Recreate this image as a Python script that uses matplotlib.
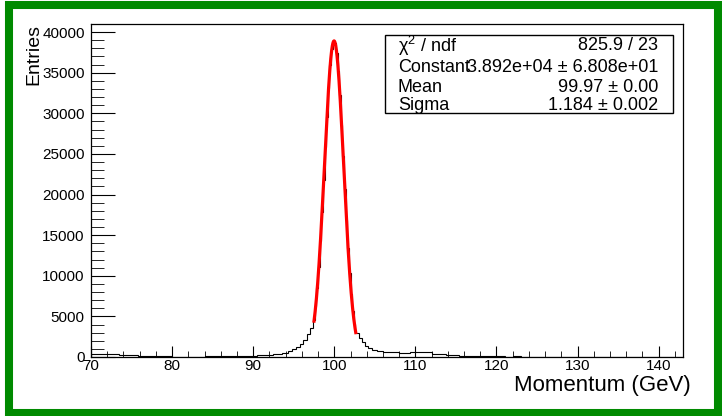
"""
plot.py - momentum histogram with gaussian fit, ROOT-like style.
"""

import numpy as np
import matplotlib
matplotlib.use('Agg')
import matplotlib.pyplot as plt
from matplotlib.patches import Rectangle

plt.rcParams['font.family'] = ['Liberation Sans', 'DejaVu Sans']
plt.rcParams['mathtext.fontset'] = 'custom'
plt.rcParams['mathtext.rm'] = 'Liberation Sans'
plt.rcParams['mathtext.it'] = 'Liberation Sans:italic'

# ── Data ───────────────────────────────────────────────────────────────────────
# histogram bin edges (GeV) and contents (entries)
bin_edges = [70, 73.5, 75.8, 80, 84, 87.5, 89, 90.5, 91.5, 92.5, 93.5, 94.3,
             94.8, 95.3, 95.8, 96.2, 96.6, 97.0, 97.4,
             97.6, 97.8, 98.0, 98.2, 98.4, 98.6, 98.8, 99.0, 99.2, 99.4, 99.6,
             99.8, 100.0, 100.2, 100.4, 100.6, 100.8, 101.0, 101.2, 101.4,
             101.6, 101.8, 102.0, 102.2, 102.4, 102.6,
             103.0, 103.4, 103.8, 104.2, 104.7, 105.3, 106, 107, 108, 109.3,
             112, 113.8, 115.4, 118.7, 120, 121, 122, 123, 124.5, 143]
bin_counts = [330, 240, 90, 60, 70, 130, 170, 220, 300, 400, 550,
              750, 950, 1250, 1600, 2100, 2800, 3600,
              4500, 6300, 8500, 11100, 14300, 17900, 21800, 25800, 29600,
              33100, 35900, 37900, 38900, 38700, 37400, 35200, 32200, 28600,
              24700, 20700, 16900, 13400, 10300, 7800, 5700, 4100,
              2900, 2300, 1800, 1400, 1100, 900, 750, 620, 560, 520,
              560, 430, 240, 150, 80, 110, 40, 90, 50, 0]

# fit result
fit_constant = 3.892e4
fit_mean = 99.97
fit_sigma = 1.184
fit_range = [97.5, 102.65]
stat_labels = ['χ$^2$ / ndf', 'Constant', 'Mean', 'Sigma']
stat_values = ['825.9 / 23', '3.892e+04 ± 6.808e+01', '99.97 ± 0.00',
               '1.184 ± 0.002']

# ── Figure ─────────────────────────────────────────────────────────────────────
W, H = 722, 416
fig = plt.figure(figsize=(W / 100, H / 100), dpi=100)
ax = fig.add_axes([91 / W, (H - 357) / H, 592 / W, 333 / H])

ax.stairs(bin_counts, bin_edges, color='black', linewidth=0.8)

xf = np.linspace(fit_range[0], fit_range[1], 300)
yf = fit_constant * np.exp(-0.5 * ((xf - fit_mean) / fit_sigma) ** 2)
ax.plot(xf, yf, color='#ff0000', linewidth=2.3)

ax.set_xlim(70, 143)
ax.set_ylim(0, 41000)
ax.set_xticks(np.arange(70, 141, 10))
ax.set_xticks(np.arange(70, 143, 2), minor=True)
ax.set_yticks(np.arange(0, 40001, 5000))
ax.set_yticks(np.arange(0, 41001, 1000), minor=True)
ax.tick_params(which='both', direction='in', top=False, right=False,
               labelsize=11, colors='black')
ax.tick_params(axis='x', which='major', length=8, pad=1.5)
ax.tick_params(axis='x', which='minor', length=4.5)
ax.tick_params(axis='y', which='major', length=17, pad=4.5)
ax.tick_params(axis='y', which='minor', length=9)
for s in ax.spines.values():
    s.set_linewidth(0.9)

fig.text(34 / W, 1 - 24 / H, 'Entries', rotation=90, ha='center', va='top',
         fontsize=14)
fig.text(691 / W, 1 - 386 / H, 'Momentum (GeV)', ha='right', va='center',
         fontsize=16)

# ── Stat box ───────────────────────────────────────────────────────────────────
def fx(px):
    return px / W

def fy(py):
    return 1 - py / H

fig.patches.append(Rectangle((fx(385), fy(113)), fx(673) - fx(385),
                             fy(35) - fy(113), transform=fig.transFigure,
                             facecolor='white', edgecolor='black',
                             linewidth=1.0, zorder=5))
row_y = [46, 67, 87, 106]
for lab, val, ry in zip(stat_labels, stat_values, row_y):
    fig.text(fx(398), fy(ry), lab, ha='left', va='center', fontsize=13,
             zorder=6)
    fig.text(fx(658), fy(ry), val, ha='right', va='center', fontsize=13,
             zorder=6)

# ── Green frame ────────────────────────────────────────────────────────────────
fig.patches.append(Rectangle((fx(9), fy(412.5)), fx(718) - fx(9),
                             fy(4.5) - fy(412.5), transform=fig.transFigure,
                             facecolor='none', edgecolor='#008a00',
                             linewidth=5.8, zorder=10))

fig.savefig('out.png', dpi=100)
